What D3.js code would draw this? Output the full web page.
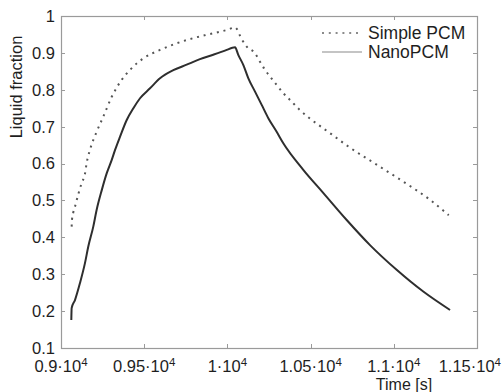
<!DOCTYPE html>
<html>
<head>
<meta charset="utf-8">
<script src="https://cdn.jsdelivr.net/npm/d3@7"></script>
<style>
body{margin:0;background:#fff;}
svg text{font-family:"Liberation Sans",Arial,Helvetica,sans-serif;fill:#1e1e1e;}
</style>
</head>
<body>
<svg id="chart" width="502" height="392"></svg>
<script>
const xTicks = [9000, 9500, 10000, 10500, 11000, 11500];
const xTickMantissa = ["0.9", "0.95", "1", "1.05", "1.1", "1.15"];
const yTicks = [0.1, 0.2, 0.3, 0.4, 0.5, 0.6, 0.7, 0.8, 0.9, 1];
const yTickLabels = ["0.1", "0.2", "0.3", "0.4", "0.5", "0.6", "0.7", "0.8", "0.9", "1"];

const timeSimple = [9064, 9066, 9074, 9084, 9104, 9124, 9144, 9154, 9174, 9214, 9254, 9305, 9365, 9415, 9495, 9595, 9695, 9795, 9895, 9996, 10046, 10086, 10116, 10166, 10196, 10226, 10256, 10296, 10336, 10386, 10436, 10496, 10556, 10627, 10737, 10897, 11057, 11217, 11330];
const simplePCM = [0.429, 0.447, 0.468, 0.483, 0.517, 0.547, 0.572, 0.601, 0.637, 0.686, 0.727, 0.781, 0.827, 0.854, 0.885, 0.908, 0.926, 0.940, 0.951, 0.962, 0.969, 0.937, 0.917, 0.899, 0.876, 0.854, 0.836, 0.813, 0.791, 0.768, 0.745, 0.722, 0.702, 0.679, 0.643, 0.597, 0.551, 0.502, 0.460];

const timeNano = [9062, 9064, 9084, 9114, 9144, 9164, 9194, 9214, 9245, 9275, 9305, 9325, 9355, 9395, 9435, 9475, 9535, 9595, 9675, 9755, 9835, 9915, 9996, 10030, 10046, 10066, 10096, 10126, 10166, 10206, 10246, 10296, 10336, 10456, 10577, 10717, 10857, 11017, 11177, 11338];
const nanoPCM = [0.176, 0.208, 0.230, 0.276, 0.330, 0.375, 0.429, 0.474, 0.528, 0.574, 0.610, 0.637, 0.673, 0.718, 0.750, 0.777, 0.804, 0.831, 0.853, 0.868, 0.883, 0.895, 0.908, 0.914, 0.915, 0.894, 0.867, 0.831, 0.795, 0.759, 0.723, 0.686, 0.655, 0.583, 0.520, 0.447, 0.379, 0.312, 0.253, 0.203];

const seriesNames = ["Simple PCM", "NanoPCM"];

const svg = d3.select("#chart");
const L = 61, R = 477, T = 16, B = 348;
const x = d3.scaleLinear().domain([9000, 11500]).range([L, R]);
const y = d3.scaleLinear().domain([0.1, 1]).range([B, T]);
const axisColor = "#9a9a9a";
const tickLen = 4;

// frame
svg.append("rect").attr("x", L + 0.5).attr("y", T + 0.5).attr("width", R - L).attr("height", B - T)
  .attr("fill", "none").attr("stroke", axisColor).attr("stroke-width", 1.2);

// ticks (inside, all four sides)
const g = svg.append("g");
xTicks.forEach(v => {
  const px = Math.round(x(v)) + 0.5;
  g.append("line").attr("x1", px).attr("x2", px).attr("y1", B).attr("y2", B - tickLen).attr("stroke", axisColor);
  g.append("line").attr("x1", px).attr("x2", px).attr("y1", T).attr("y2", T + tickLen).attr("stroke", axisColor);
});
yTicks.forEach(v => {
  const py = Math.round(y(v)) + 0.5;
  g.append("line").attr("x1", L).attr("x2", L + tickLen).attr("y1", py).attr("y2", py).attr("stroke", axisColor);
  g.append("line").attr("x1", R).attr("x2", R - tickLen).attr("y1", py).attr("y2", py).attr("stroke", axisColor);
});

// x tick labels
xTicks.forEach((v, i) => {
  const last = i === xTicks.length - 1;
  const t = svg.append("text").attr("x", last ? 501 : x(v)).attr("y", 372)
    .attr("text-anchor", last ? "end" : "middle")
    .style("font-size", "16.5px");
  t.append("tspan").text(xTickMantissa[i] + "\u00b710");
  t.append("tspan").attr("dy", -6).style("font-size", "11.5px").text("4");
});

// y tick labels
yTicks.forEach((v, i) => {
  svg.append("text").attr("x", 55).attr("y", y(v)).attr("dy", "0.36em").attr("text-anchor", "end")
    .style("font-size", "16.5px").text(yTickLabels[i]);
});

// axis titles
svg.append("text").attr("x", 404).attr("y", 390).attr("text-anchor", "middle")
  .style("font-size", "16px").text("Time [s]");
svg.append("text").attr("transform", "translate(22,87) rotate(-90)").attr("text-anchor", "middle")
  .style("font-size", "16.5px").text("Liquid fraction");

// lines
const line = d3.line().x(d => x(d[0])).y(d => y(d[1])).curve(d3.curveMonotoneX);
const simpleData = timeSimple.map((t, i) => [t, simplePCM[i]]);
const nanoData = timeNano.map((t, i) => [t, nanoPCM[i]]);

svg.append("path").datum(simpleData).attr("d", line)
  .attr("fill", "none").attr("stroke", "#555").attr("stroke-width", 2)
  .attr("stroke-dasharray", "2,4.8");
svg.append("path").datum(nanoData).attr("d", line)
  .attr("fill", "none").attr("stroke", "#2e2e2e").attr("stroke-width", 2);

// legend
svg.append("line").attr("x1", 322).attr("x2", 362).attr("y1", 33).attr("y2", 33)
  .attr("stroke", "#666").attr("stroke-width", 1.6).attr("stroke-dasharray", "2,4.8");
svg.append("text").attr("x", 368).attr("y", 33).attr("dy", "0.36em").style("font-size", "17.5px").text(seriesNames[0]);
svg.append("line").attr("x1", 322).attr("x2", 362).attr("y1", 52).attr("y2", 52)
  .attr("stroke", "#8a8a8a").attr("stroke-width", 1.2);
svg.append("text").attr("x", 368).attr("y", 52).attr("dy", "0.36em").style("font-size", "17.5px").text(seriesNames[1]);
</script>
</body>
</html>
